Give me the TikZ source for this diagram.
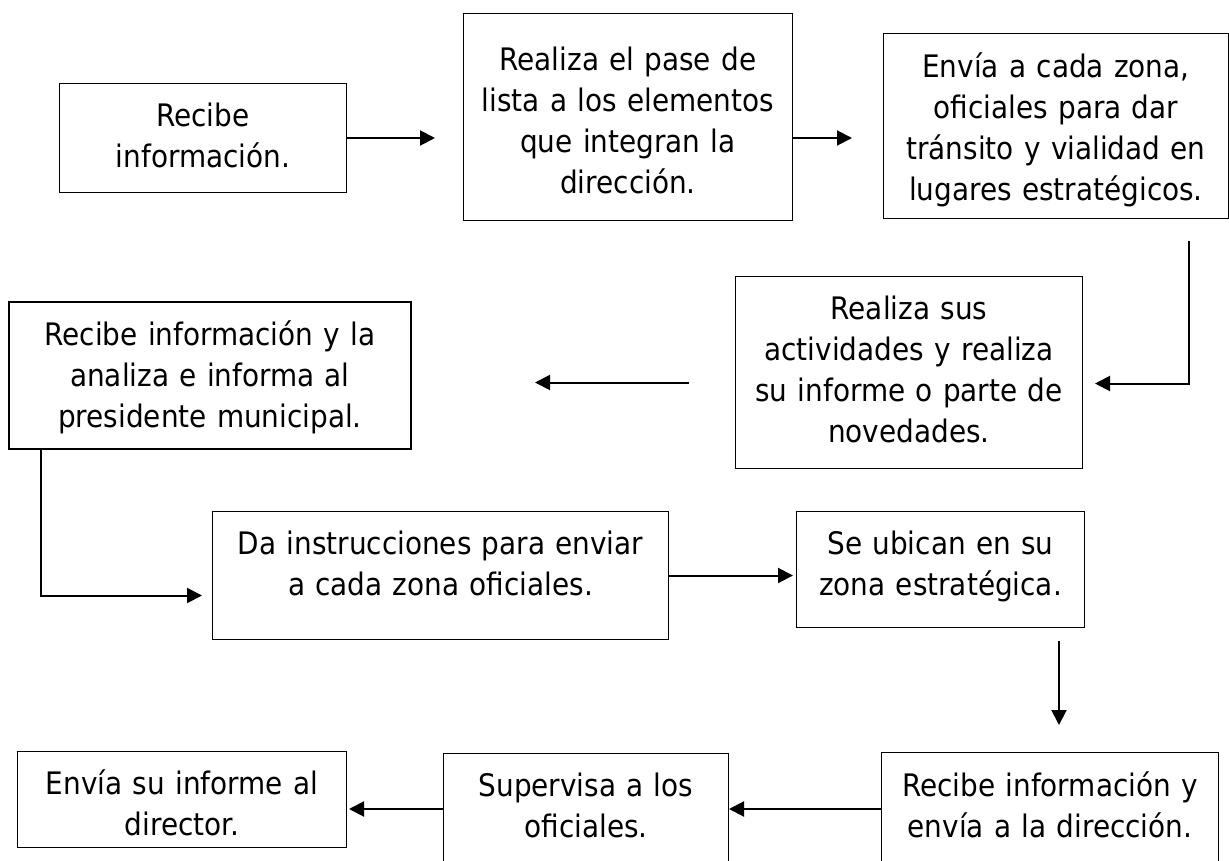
\documentclass[tikz,border=0pt]{standalone}
\usepackage{fontspec}
\setmainfont{DejaVu Sans Condensed}
\usetikzlibrary{arrows.meta}

\begin{document}
\begin{tikzpicture}[
    x=1pt, y=-1pt,
    paso/.style={rectangle, draw, line width=1pt, inner sep=0pt, anchor=north west, align=center, font=\fontsize{31}{41}\selectfont},
    flecha/.style={-{Triangle[length=15pt, width=15pt]}, line width=2pt},
]
    \useasboundingbox (0,0) rectangle (1229,861);

    % primera fila
    \node[paso, text width=287pt, text height=43pt, text depth=66pt] (recibe) at (59,83) {Recibe\\información.};
    \node[paso, text width=329pt, text height=57pt, text depth=150pt] (pase) at (463,13) {Realiza el pase de\\lista a los elementos\\que integran la\\dirección.};
    \node[paso, text width=345pt, text height=44pt, text depth=141pt] (envia) at (883,33) {Envía a cada zona,\\oficiales para dar\\tránsito y vialidad en\\lugares estratégicos.};

    % segunda fila
    \node[paso, text width=347pt, text height=43pt, text depth=149pt] (realiza) at (735,276) {Realiza sus\\actividades y realiza\\su informe o parte de\\novedades.};
    \node[paso, line width=2pt, text width=402pt, text height=43pt, text depth=104pt] (analiza) at (8,301) {Recibe información y la\\analiza e informa al\\presidente municipal.};

    % tercera fila
    \node[paso, text width=456pt, text height=43pt, text depth=85pt] (instruye) at (212,511) {Da instrucciones para enviar\\a cada zona oficiales.};
    \node[paso, text width=288pt, text height=43pt, text depth=73pt] (ubican) at (796,511) {Se ubican en su\\zona estratégica.};

    % cuarta fila
    \node[paso, text width=337pt, text height=44pt, text depth=80pt] (recibeinfo) at (881,752) {Recibe información y\\envía a la dirección.};
    \node[paso, text width=285pt, text height=43pt, text depth=80pt] (supervisa) at (443,753) {Supervisa a los\\oficiales.};
    \node[paso, text width=329pt, text height=43pt, text depth=53pt] (informe) at (17,751) {Envía su informe al\\director.};

    \draw[flecha, shorten >=28pt] (recibe.east) -- (recibe.east -| pase.west);
    \draw[flecha, shorten >=31pt] (pase.east |- recibe.east) -- (envia.west |- recibe.east);
    \draw[flecha, shorten >=12pt] ([xshift=-40pt,yshift=-22pt]envia.south east) |- ([yshift=-11pt]realiza.east);
    \draw[flecha, shorten >=123pt] ([xshift=-46pt,yshift=-10pt]realiza.west) -- ([yshift=-10pt]realiza.west -| analiza.east);
    \draw[flecha, shorten >=10pt] ([xshift=33pt]analiza.south west) |- ([yshift=-20pt]instruye.west);
    \draw[flecha, shorten >=3pt] (instruye.east) -- (instruye.east -| ubican.west);
    \draw[flecha, shorten <=13pt, shorten >=27pt] ([xshift=-26pt]ubican.south east) -- ([xshift=-26pt]ubican.south east |- recibeinfo.north);
    \draw[flecha] ([yshift=-57pt]recibeinfo.north west) -- ([yshift=-57pt]recibeinfo.north west -| supervisa.east);
    \draw[flecha, shorten >=2pt] ([yshift=-56pt]supervisa.north west) -- ([yshift=-56pt]supervisa.north west -| informe.east);
\end{tikzpicture}
\end{document}
